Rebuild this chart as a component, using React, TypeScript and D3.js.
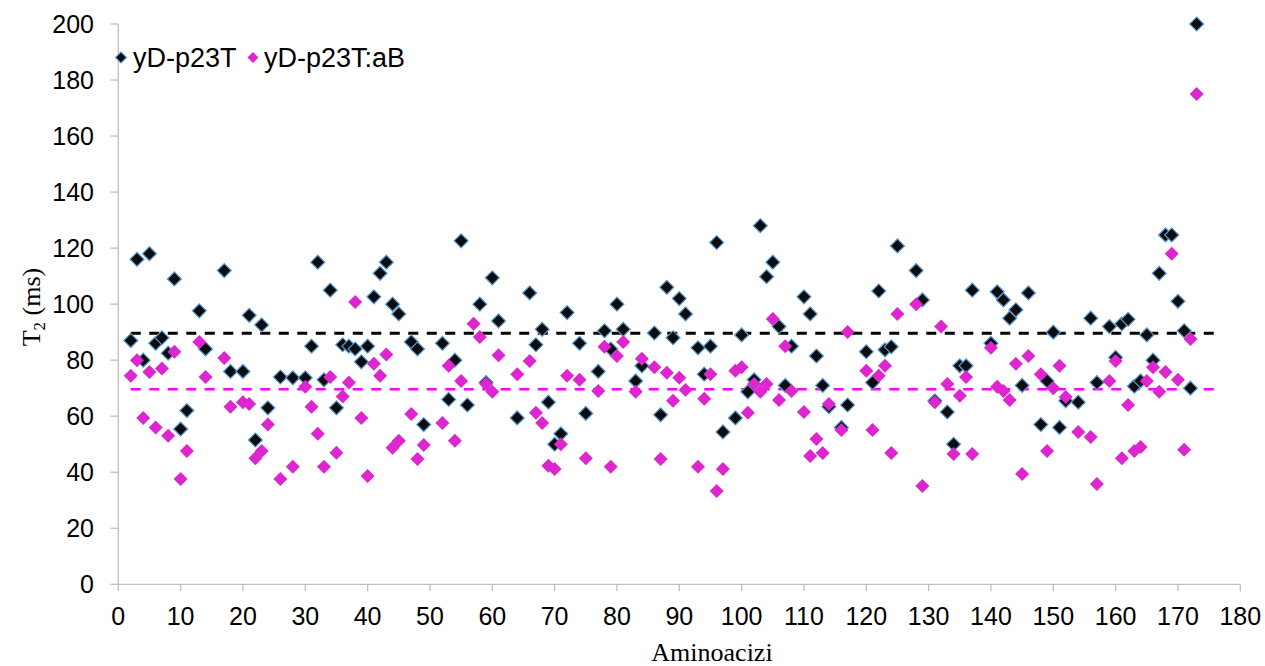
import React from "react";
import * as d3 from "d3";

const xTicks = [0, 10, 20, 30, 40, 50, 60, 70, 80, 90, 100, 110, 120, 130, 140, 150, 160, 170, 180];
const yTicks = [0, 20, 40, 60, 80, 100, 120, 140, 160, 180, 200];

const seriesNames = ["yD-p23T", "yD-p23T:aB"];

// [aminoacid index, T2 in ms]
const free: [number, number][] = [
  [2, 87], [3, 116], [4, 80], [5, 118], [6, 86], [7, 88], [8, 82.5], [9, 109], [10, 55.4], [11, 62],
  [13, 97.6], [14, 84], [17, 112], [18, 76], [20, 76], [21, 96], [22, 51.5], [23, 92.6], [24, 63], [26, 74],
  [28, 73.7], [30, 73.7], [31, 85], [32, 115], [33, 73], [34, 105], [35, 63], [36, 85.5], [37, 85], [38, 84],
  [39, 79.4], [40, 85], [41, 102.6], [42, 111], [43, 115], [44, 100], [45, 96.5], [47, 86.5], [48, 84], [49, 57],
  [52, 86], [53, 66], [54, 80], [55, 122.6], [56, 64], [58, 100], [59, 72], [60, 109.4], [61, 94], [64, 59.4],
  [66, 104], [67, 85.5], [68, 91], [69, 65], [70, 50], [71, 53.7], [72, 97], [74, 86], [75, 61], [77, 76],
  [78, 90.5], [79, 84], [80, 100], [81, 91], [83, 72.6], [84, 78], [86, 89.7], [87, 60.5], [88, 106], [89, 88],
  [90, 102], [91, 96.5], [93, 84.4], [94, 75], [95, 85], [96, 122], [97, 54.4], [99, 59.4], [100, 89], [101, 68.7],
  [102, 73], [103, 128], [104, 109.8], [105, 115], [106, 92], [107, 71], [108, 85], [110, 102.6], [111, 96.5], [112, 81.5],
  [113, 71], [114, 63.4], [116, 56], [117, 64], [120, 83], [121, 72], [122, 104.7], [123, 83.7], [124, 84.8], [125, 120.8],
  [128, 112], [129, 101.5], [131, 65.5], [133, 61.5], [134, 50], [135, 78], [136, 78], [137, 105], [140, 86], [141, 104.4],
  [142, 101.5], [143, 95], [144, 98], [145, 71], [146, 104], [148, 57], [149, 72.6], [150, 90], [151, 56], [152, 65.5],
  [154, 65], [156, 95], [157, 72], [159, 92], [160, 81], [161, 93], [162, 94.6], [163, 70.7], [164, 72.6], [165, 89],
  [166, 80], [167, 111], [168, 124.7], [169, 124.7], [170, 101], [171, 90.5], [172, 70], [173, 200],
];

const bound: [number, number][] = [
  [2, 74.4], [3, 80], [4, 59.4], [5, 75.8], [6, 56], [7, 77], [8, 53], [9, 83], [10, 37.6], [11, 47.6],
  [13, 86.5], [14, 74], [17, 80.8], [18, 63.4], [20, 65], [21, 64.4], [22, 45], [23, 47.6], [24, 57], [26, 37.6],
  [28, 42], [30, 70.5], [31, 63.4], [32, 53.7], [33, 42], [34, 74], [35, 47], [36, 67], [37, 72], [38, 100.8],
  [39, 59.4], [40, 38.7], [41, 78.7], [42, 74.4], [43, 82], [44, 48.7], [45, 51.2], [47, 60.8], [48, 44.7], [49, 49.7],
  [52, 57.6], [53, 78], [54, 51.2], [55, 72.6], [57, 93], [58, 88.3], [59, 71.5], [60, 68.7], [61, 81.8], [64, 75],
  [66, 79.7], [67, 61.2], [68, 57.6], [69, 42.3], [70, 41.2], [71, 50], [72, 74.4], [74, 73], [75, 45], [77, 69],
  [78, 84.8], [79, 42], [80, 81.5], [81, 86.5], [83, 68.7], [84, 80.5], [86, 77.5], [87, 44.7], [88, 75.5], [89, 65.5],
  [90, 73.7], [91, 69.4], [93, 42], [94, 66.2], [95, 75], [96, 33.3], [97, 41.2], [99, 76.2], [100, 77.5], [101, 61.2],
  [102, 71.5], [103, 68.7], [104, 71.5], [105, 94.7], [106, 65.8], [107, 85], [108, 69], [110, 61.5], [111, 45.8], [112, 51.9],
  [113, 46.9], [114, 64.4], [116, 55.1], [117, 90.1], [120, 76.2], [121, 55.1], [122, 74.4], [123, 78], [124, 46.9], [125, 96.5],
  [128, 100], [129, 35.1], [131, 65], [132, 92], [133, 71.5], [134, 46.5], [135, 67.3], [136, 74], [137, 46.5], [140, 84.4],
  [141, 70.5], [142, 69], [143, 65.8], [144, 78.7], [145, 39.4], [146, 81.5], [148, 75], [149, 47.6], [150, 70], [151, 78],
  [152, 66.9], [154, 54.4], [156, 52.6], [157, 35.8], [159, 72.6], [160, 79.7], [161, 45], [162, 64], [163, 47.6], [164, 49],
  [165, 72.6], [166, 77.5], [167, 68.7], [168, 75.8], [169, 118], [170, 73], [171, 48], [172, 87.6], [173, 175],
];

const meanFree = 89.6;
const meanBound = 69.6;
const meanRange = [2, 177];

const W = 1265;
const H = 666;
const left = 118.3;
const right = 1240.3;
const top = 24;
const bottom = 584.3;

export default function App() {
  const x = d3.scaleLinear().domain([0, 180]).range([left, right]);
  const y = d3.scaleLinear().domain([0, 200]).range([bottom, top]);
  const diamond = d3.symbol().type(d3.symbolSquare).size(98)();
  const legendDiamond = d3.symbol().type(d3.symbolSquare).size(60)();
  const axisColor = "#bfbfbf";
  const sans = "'Liberation Sans', Arial, sans-serif";
  const serif = "'Liberation Serif', 'Times New Roman', serif";
  const black = "#0d0d0d";
  const blueEdge = "#5b9bd5";
  const magenta = "#dd26cf";
  const line = d3.line<number>().x((d) => x(d));

  return (
    <svg width={W} height={H} style={{ position: "absolute", left: 0, top: 0, background: "#fff" }}>
      {/* axes */}
      <line x1={left} x2={left} y1={top} y2={bottom} stroke={axisColor} strokeWidth={1.3} />
      <line x1={left} x2={right} y1={bottom} y2={bottom} stroke={axisColor} strokeWidth={1.3} />
      {yTicks.map((t) => (
        <g key={"y" + t}>
          <line x1={left - 8} x2={left} y1={y(t)} y2={y(t)} stroke={axisColor} strokeWidth={1.3} />
          <text x={94} y={y(t)} dy="0.35em" textAnchor="end" fontFamily={sans} fontSize={25} fill="#000">
            {t}
          </text>
        </g>
      ))}
      {xTicks.map((t) => (
        <g key={"x" + t}>
          <line x1={x(t)} x2={x(t)} y1={bottom} y2={bottom + 7} stroke={axisColor} strokeWidth={1.3} />
          <text x={x(t)} y={625} textAnchor="middle" fontFamily={sans} fontSize={25} fill="#000">
            {t}
          </text>
        </g>
      ))}

      {/* mean lines */}
      <path
        d={line.y(() => y(meanFree))(meanRange) || ""}
        stroke="#000"
        strokeWidth={3}
        strokeDasharray="10 8.5"
        fill="none"
      />
      <path
        d={line.y(() => y(meanBound))(meanRange) || ""}
        stroke="#ff00ff"
        strokeWidth={2.5}
        strokeDasharray="10 8.5"
        fill="none"
      />

      {/* series */}
      {free.map(([a, v], i) => (
        <path
          key={"f" + i}
          d={diamond}
          transform={`translate(${x(a)},${y(v)}) rotate(45)`}
          fill={black}
          stroke={blueEdge}
          strokeWidth={1.2}
        />
      ))}
      {bound.map(([a, v], i) => (
        <path key={"b" + i} d={diamond} transform={`translate(${x(a)},${y(v)}) rotate(45)`} fill={magenta} />
      ))}

      {/* legend */}
      <path d={legendDiamond} transform="translate(121,57.5) rotate(45)" fill={black} stroke={blueEdge} strokeWidth={1.2} />
      <text x={133} y={66.5} fontFamily={sans} fontSize={27} fill="#000">
        {seriesNames[0]}
      </text>
      <path d={legendDiamond} transform="translate(253,57.5) rotate(45)" fill={magenta} />
      <text x={264} y={66.5} fontFamily={sans} fontSize={27} fill="#000">
        {seriesNames[1]}
      </text>

      {/* axis titles */}
      <text
        transform="translate(40,307) rotate(-90)"
        textAnchor="middle"
        fontFamily={serif}
        fontSize={26}
        fill="#000"
      >
        T<tspan fontSize={17} dy={5}>2</tspan>
        <tspan dy={-5}> (ms)</tspan>
      </text>
      <text x={712} y={661} textAnchor="middle" fontFamily={serif} fontSize={26} fill="#000">
        Aminoacizi
      </text>
    </svg>
  );
}
